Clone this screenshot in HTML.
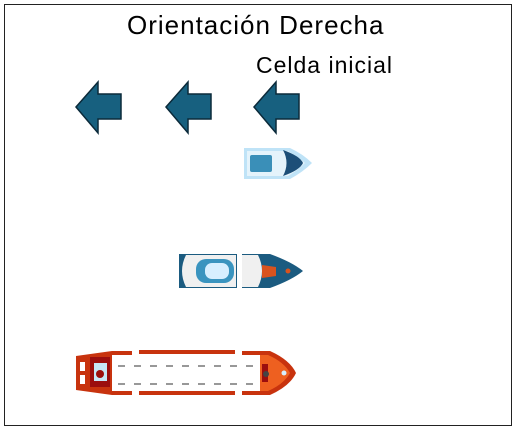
<!DOCTYPE html>
<html><head><meta charset="utf-8"><style>
body{margin:0;background:#fff;width:515px;height:430px;overflow:hidden;font-family:"Liberation Sans",sans-serif}
#f{position:absolute;left:4px;top:4px;width:506px;height:420px;border:1px solid #222}
.t{position:absolute;color:#000;white-space:nowrap}
</style></head><body>
<div id="f"></div>
<div class="t" style="left:127px;top:10px;font-size:26px;letter-spacing:1px">Orientación Derecha</div>
<div class="t" style="left:256px;top:52px;font-size:23px;letter-spacing:1px">Celda inicial</div>
<svg width="515" height="430" style="position:absolute;left:0;top:0">
<g fill="#17607f" stroke="#0b2a3a" stroke-width="1.5">
<polygon points="76,107 98,82 98,94 121,94 121,119 98,119 98,133"/>
<polygon points="166,107 188,82 188,94 211,94 211,119 188,119 188,133"/>
<polygon points="254,107 276,82 276,94 299,94 299,119 276,119 276,133"/>
</g>
<path d="M244,148 L290,148 Q303,154 312,163 Q303,172 290,179 L244,179 Z" fill="#bfe3f7"/>
<path d="M247,151 L288,151 Q298,157 305,163 Q298,170 288,176 L247,176 Z" fill="#e4f3fb"/>
<path d="M283,150 Q300,156 303,163 Q300,170 283,176 Q290,163 283,150 Z" fill="#1c4f78"/>
<rect x="250" y="155" width="22" height="17" rx="2" fill="#3a8fb8"/>
<path d="M179,254 L237,254 L237,288 L179,288 Z" fill="#1b5b80"/>
<path d="M186,255 L236,255 L236,287 L186,287 Q178,271 186,255 Z" fill="#f0f0f0"/>
<rect x="196" y="259" width="38" height="24" rx="10" fill="#3a94bf"/>
<rect x="205" y="263" width="24" height="16" rx="7" fill="#d7efff"/>
<path d="M242,254 L270,254 Q292,262 303,271 Q292,280 270,288 L242,288 Z" fill="#1b5b80"/>
<path d="M242,255 L258,255 Q266,271 258,287 L242,287 Z" fill="#f0f0f0"/>
<path d="M262,265 L276,267 L276,276 L262,278 Z" fill="#d9531e"/>
<circle cx="288" cy="271" r="2.5" fill="#d9531e"/>
<path d="M76,356 L112,351 L132,351 L132,395 L112,395 L76,390 Z" fill="#c8330e"/>
<rect x="112" y="355" width="20" height="36" fill="#fff"/>
<rect x="90" y="357" width="20" height="30" fill="#9b0e0e"/>
<rect x="94" y="363" width="13" height="18" fill="#c6e6f8"/>
<circle cx="100" cy="374" r="4" fill="#9b0e0e"/>
<rect x="80" y="362" width="5" height="9" fill="#fff"/>
<rect x="80" y="375" width="5" height="9" fill="#fff"/>
<rect x="139" y="350" width="96" height="45" fill="#c8330e"/>
<rect x="139" y="354" width="96" height="37" fill="#fff"/>
<path d="M242,351 L270,351 Q290,360 296,373 Q290,386 270,395 L242,395 Z" fill="#c8330e"/>
<path d="M242,355 L268,355 Q284,362 290,373 Q284,384 268,391 L242,391 Z" fill="#f26522" opacity=".9"/>
<rect x="242" y="355" width="18" height="36" fill="#fff"/>
<rect x="262" y="364" width="6" height="18" fill="#9b0e0e"/>
<circle cx="266" cy="374" r="3" fill="#444"/>
<circle cx="284" cy="373" r="2.5" fill="#d7efff"/>
<g stroke="#777" stroke-width="1.5" stroke-dasharray="7,9">
<line x1="118" y1="366" x2="255" y2="366"/>
<line x1="118" y1="384" x2="255" y2="384"/>
</g>
</svg>
</body></html>
